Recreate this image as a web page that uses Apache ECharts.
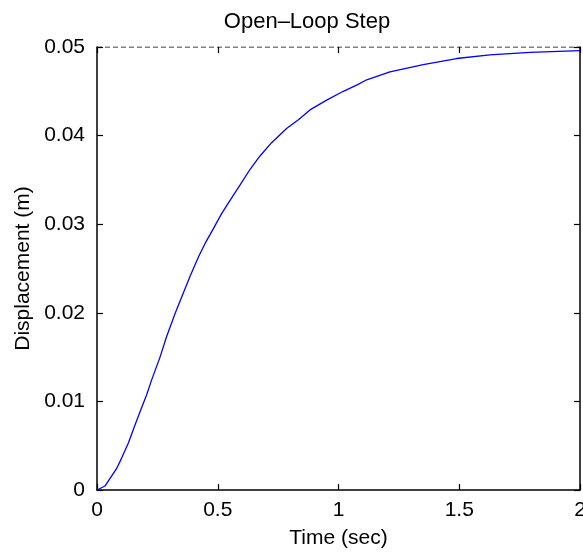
<!DOCTYPE html>
<html>
<head>
<meta charset="utf-8">
<script src="https://cdn.jsdelivr.net/npm/echarts@6/dist/echarts.min.js"></script>
<style>html,body{margin:0;padding:0;background:#fff}#c{width:583px;height:552px}</style>
</head>
<body>
<div id="c"></div>
<script>
var timeValues = [0, 0.033, 0.054, 0.081, 0.102, 0.130, 0.157, 0.185, 0.205, 0.226, 0.261, 0.288, 0.323, 0.357, 0.385, 0.420, 0.447, 0.482, 0.516, 0.551, 0.592, 0.634, 0.675, 0.723, 0.785, 0.834, 0.882, 0.951, 1.02, 1.075, 1.117, 1.213, 1.351, 1.489, 1.627, 1.793, 2.0];
var displacement = [0, 0.00045, 0.0013, 0.0024, 0.0036, 0.0053, 0.0073, 0.0093, 0.0107, 0.0124, 0.0150, 0.0173, 0.0199, 0.0222, 0.0241, 0.0263, 0.0278, 0.0295, 0.0312, 0.0327, 0.0344, 0.0362, 0.0377, 0.0392, 0.0408, 0.0418, 0.0429, 0.0440, 0.0450, 0.0457, 0.0463, 0.0472, 0.0480, 0.0487, 0.0491, 0.0494, 0.0496];
var steadyT = [0, 2];
var steadyV = [0.05, 0.05];
var xTicks = [0, 0.5, 1, 1.5, 2];
var yTicks = [0, 0.01, 0.02, 0.03, 0.04, 0.05];

var FONT = 'Liberation Sans';
var chart = echarts.init(document.getElementById('c'));
function zip(a, b) { return a.map(function (v, i) { return [v, b[i]]; }); }
function fmtX(v) { return String(Math.round(v * 10) / 10); }
function fmtY(v) { return v === 0 ? '0' : (Math.round(v * 100) / 100).toFixed(2); }
var tick = { show: true, inside: true, length: 6, lineStyle: { color: '#000', width: 1.2 } };

chart.setOption({
  animation: false,
  backgroundColor: '#fff',
  title: {
    text: 'Open\u2013Loop Step',
    left: 302, top: 6, textAlign: 'center',
    textStyle: { fontFamily: FONT, fontSize: 22, fontWeight: 'normal', color: '#000' }
  },
  grid: { left: 97, right: 3, top: 47, bottom: 62, containLabel: false, outerBoundsMode: 'none' },
  xAxis: [{
    type: 'value', min: 0, max: 2, interval: 0.5,
    name: 'Time (sec)', nameLocation: 'middle', nameGap: 38,
    nameTextStyle: { fontFamily: FONT, fontSize: 21, color: '#000' },
    axisLine: { show: true, onZero: false, lineStyle: { color: '#000', width: 1.5 } },
    axisTick: tick,
    axisLabel: { fontFamily: FONT, fontSize: 21, color: '#000', margin: 10, formatter: fmtX },
    splitLine: { show: false }
  }, {
    type: 'value', position: 'top', min: 0, max: 2, interval: 0.5,
    axisLine: { show: false, onZero: false },
    axisTick: tick,
    axisLabel: { show: false }, splitLine: { show: false }
  }],
  yAxis: [{
    type: 'value', min: 0, max: 0.05, interval: 0.01,
    name: 'Displacement (m)', nameLocation: 'middle', nameGap: 62,
    nameTextStyle: { fontFamily: FONT, fontSize: 21, color: '#000' },
    axisLine: { show: true, onZero: false, lineStyle: { color: '#000', width: 1.5 } },
    axisTick: tick,
    axisLabel: { fontFamily: FONT, fontSize: 21, color: '#000', margin: 12, formatter: fmtY },
    splitLine: { show: false }
  }, {
    type: 'value', position: 'right', min: 0, max: 0.05, interval: 0.01,
    axisLine: { show: true, onZero: false, lineStyle: { color: '#000', width: 1.5 } },
    axisTick: tick,
    axisLabel: { show: false }, splitLine: { show: false }
  }],
  series: [{
    type: 'line', data: zip(steadyT, steadyV), symbol: 'none',
    lineStyle: { color: '#000', width: 1.2, type: [5, 3] }, z: 3
  }, {
    type: 'line', data: zip(timeValues, displacement), symbol: 'none',
    smooth: false,
    lineStyle: { color: '#0000ff', width: 1.3 }, z: 4
  }]
});
</script>
</body>
</html>
